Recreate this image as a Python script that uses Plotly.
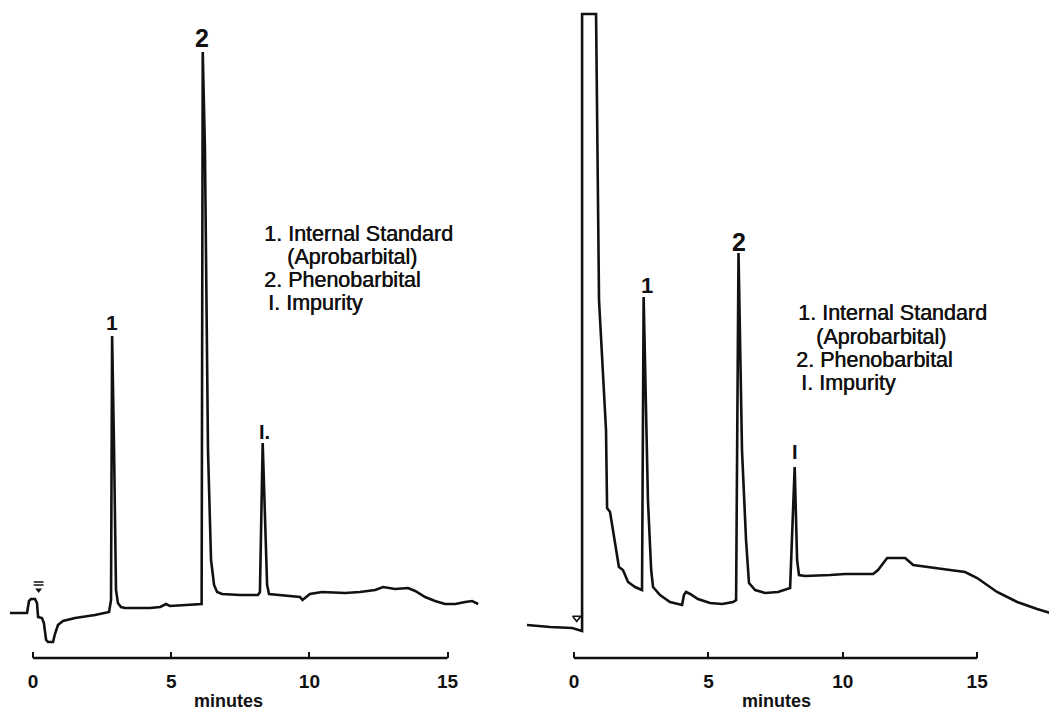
import plotly.graph_objects as go

# ---------------- data ----------------
# Left chromatogram: time (min) and detector response (arbitrary units)
left_time = [-0.84, -0.22, -0.15, -0.08, 0.07, 0.14, 0.18, 0.32, 0.39, 0.47, 0.54, 0.72,
             0.79, 0.90, 1.08, 1.52, 2.24, 2.75, 2.82, 2.86, 2.93, 3.00, 3.07, 3.18,
             3.33, 4.23, 4.60, 4.81, 4.95, 5.50, 6.04, 6.10, 6.14, 6.22, 6.33, 6.44,
             6.55, 6.66, 6.84, 7.49, 8.14, 8.21, 8.31, 8.40, 8.47, 8.54, 8.94, 9.66,
             9.75, 10.02, 10.46, 11.29, 11.83, 12.38, 12.67, 13.10, 13.57, 13.83, 14.19,
             14.55, 14.91, 15.28, 15.64, 15.89, 16.11]
left_signal = [45, 45, 57, 59, 59, 55, 41, 40, 35, 18, 16, 16,
               24, 33, 37, 40, 43, 46, 58, 322, 208, 68, 55, 51,
               50, 50, 51, 54, 52, 53, 54, 54, 606, 508, 208, 98,
               73, 66, 64, 63, 63, 66, 215, 138, 73, 64, 63, 61,
               58, 64, 66, 65, 66, 68, 71, 69, 70, 67, 61,
               57, 54, 54, 56, 57, 54]

# Right chromatogram
right_time = [-1.75, -0.89, -0.07, 0.26, 0.30, 0.30, 0.82, 0.93, 1.19, 1.23, 1.34, 1.67,
              1.82, 2.01, 2.27, 2.53, 2.59, 2.75, 2.87, 2.94, 3.20, 3.57, 4.02, 4.09,
              4.17, 4.32, 4.61, 5.06, 5.51, 5.92, 6.03, 6.12, 6.25, 6.40, 6.51, 6.74,
              7.11, 7.59, 8.04, 8.21, 8.30, 8.37, 8.60, 9.53, 10.09, 11.13, 11.31, 11.65,
              12.32, 12.62, 13.25, 13.99, 14.55, 15.00, 15.74, 16.49, 17.23, 17.98]
right_signal = [33, 31, 30, 27, 27, 644, 644, 358, 228, 150, 146, 91,
                88, 76, 71, 68, 361, 158, 88, 71, 63, 56, 53, 63,
                66, 64, 59, 55, 54, 56, 58, 405, 208, 118, 75, 68,
                65, 66, 70, 191, 98, 83, 82, 83, 84, 84, 88, 100,
                100, 93, 91, 88, 86, 80, 66, 56, 49, 43]

tick_vals = [0, 5, 10, 15]
tick_text = ["0", "5", "10", "15"]
axis_title = "minutes"

# peak labels
left_peak_labels = ["1", "2", "I."]
left_peak_times = [2.86, 6.12, 8.36]
left_peak_heights = [336, 620, 226]
right_peak_labels = ["1", "2", "I"]
right_peak_times = [2.70, 6.14, 8.22]
right_peak_heights = [373, 416, 206]

key_lines = ["1. Internal Standard", "(Aprobarbital)", "2. Phenobarbital", "I. Impurity"]

# injection marks
left_inject = (0.20, 68)
right_inject = (0.10, 40)

# ---------------- figure ----------------
# the page body adds an 8 px margin, so the figure is drawn 8 px smaller
W, H = 1049, 702
FONT = "Liberation Sans, Arial, Helvetica, sans-serif"
INK = "#111111"

fig = go.Figure()

fig.add_trace(go.Scatter(x=left_time, y=left_signal, mode="lines",
                         line=dict(color=INK, width=2.6), xaxis="x", yaxis="y",
                         showlegend=False, hoverinfo="skip"))
fig.add_trace(go.Scatter(x=right_time, y=right_signal, mode="lines",
                         line=dict(color=INK, width=2.6), xaxis="x2", yaxis="y2",
                         showlegend=False, hoverinfo="skip"))

# injection markers
fig.add_trace(go.Scatter(x=[left_inject[0]], y=[left_inject[1]], mode="markers",
                         marker=dict(symbol="triangle-down", size=6, color=INK),
                         xaxis="x", yaxis="y", showlegend=False, hoverinfo="skip"))
fig.add_trace(go.Scatter(x=[left_inject[0], left_inject[0]], y=[left_inject[1] + 5, left_inject[1] + 8],
                         mode="markers",
                         marker=dict(symbol="line-ew", size=7, color=INK,
                                     line=dict(color=INK, width=1.5)),
                         xaxis="x", yaxis="y", showlegend=False, hoverinfo="skip"))
fig.add_trace(go.Scatter(x=[right_inject[0]], y=[right_inject[1]], mode="markers",
                         marker=dict(symbol="triangle-down-open", size=7, color=INK,
                                     line=dict(color=INK, width=1.6)),
                         xaxis="x2", yaxis="y2", showlegend=False, hoverinfo="skip"))

bottom = 52 / H
left_dom = [0, 492 / W]
right_dom = [512 / W, 1]

axis_common = dict(
    showgrid=False, zeroline=False, showline=False,
    tickmode="array", tickvals=tick_vals, ticktext=tick_text,
    ticks="inside", ticklen=6, tickwidth=2, tickcolor=INK,
    tickfont=dict(family=FONT, size=19, color=INK, weight="bold"),
    ticklabelstandoff=10,
)

fig.update_layout(
    width=W, height=H,
    margin=dict(l=0, r=0, t=0, b=0, autoexpand=False),
    paper_bgcolor="white", plot_bgcolor="white",
    xaxis=dict(domain=left_dom, range=[-0.909, 16.90], anchor="y", **axis_common),
    yaxis=dict(domain=[bottom, 1], range=[0, 650], visible=False, anchor="x"),
    xaxis2=dict(domain=right_dom, range=[-2.01, 17.97], anchor="y2", **axis_common),
    yaxis2=dict(domain=[bottom, 1], range=[0, 650], visible=False, anchor="x2"),
)

# axis baselines from 0 to 15 min
for xr, yr in (("x", "y"), ("x2", "y2")):
    fig.add_shape(type="line", xref=xr, yref=f"{yr} domain",
                  x0=tick_vals[0], x1=tick_vals[-1], y0=0, y1=0,
                  line=dict(color=INK, width=2.6))

annotations = []
# axis titles
for xr, yr, xc in (("x", "y", 7.09), ("x2", "y2", 7.52)):
    annotations.append(dict(x=xc, y=0, xref=xr, yref=f"{yr} domain", yshift=-43,
                            yanchor="middle", text=axis_title, showarrow=False,
                            borderpad=0,
                            font=dict(family=FONT, size=18, color=INK, weight="bold")))

# peak labels
label_sizes_left = [21, 25, 20]
for lab, t, h, s in zip(left_peak_labels, left_peak_times, left_peak_heights, label_sizes_left):
    annotations.append(dict(x=t, y=h, xref="x", yref="y", text=lab, showarrow=False,
                            font=dict(family=FONT, size=s, color=INK, weight="bold")))
label_sizes_right = [22, 25, 20]
for lab, t, h, s in zip(right_peak_labels, right_peak_times, right_peak_heights, label_sizes_right):
    annotations.append(dict(x=t, y=h, xref="x2", yref="y2", text=lab, showarrow=False,
                            font=dict(family=FONT, size=s, color=INK, weight="bold")))

# key text
key_font = dict(family=FONT, size=21.5, color=INK, shadow="0.5px 0 0 #111111")
left_key_x = [8.32, 9.16, 8.32, 8.47]
left_key_y = [424, 401, 378, 355]
right_key_x = [8.30, 8.97, 8.22, 8.41]
right_key_y = [345, 321, 298, 275]
for txt, kx, ky in zip(key_lines, left_key_x, left_key_y):
    annotations.append(dict(x=kx, y=ky, xref="x", yref="y", text=txt, showarrow=False,
                            xanchor="left", yanchor="middle", borderpad=0,
                            font=key_font))
for txt, kx, ky in zip(key_lines, right_key_x, right_key_y):
    annotations.append(dict(x=kx, y=ky, xref="x2", yref="y2", text=txt, showarrow=False,
                            xanchor="left", yanchor="middle", borderpad=0,
                            font=key_font))

fig.update_layout(annotations=annotations)

fig.write_html("out.html")
